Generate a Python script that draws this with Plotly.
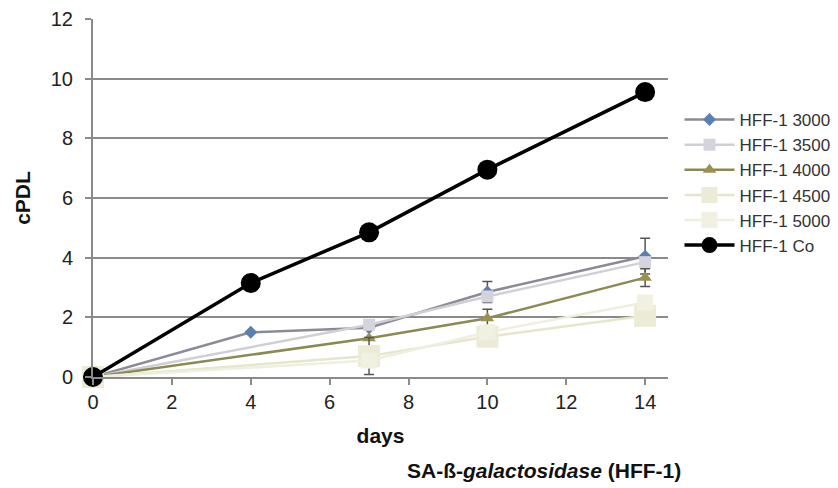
import plotly.graph_objects as go

days = [0, 4, 7, 10, 14]
names = ["HFF-1 3000", "HFF-1 3500", "HFF-1 4000", "HFF-1 4500", "HFF-1 5000", "HFF-1 Co"]
v3000 = [0, 1.5, 1.65, 2.85, 4.05]
v3500 = [0, None, 1.75, 2.7, 3.85]
v4000 = [0, None, 1.3, 1.97, 3.33]
v4500 = [0, None, 0.7, 1.35, 2.05]
v5000 = [0, None, 0.55, 1.5, 2.5]
vCo = [0, 3.15, 4.85, 6.95, 9.55]
err3000 = [0, 0, 0, 0.35, 0.6]
err3500 = [0, 0, 0.15, 0, 0]
err4000 = [0, 0, 0, 0.3, 0.3]
err4500 = [0, 0, 0.62, 0, 0]
x_ticks = [0, 2, 4, 6, 8, 10, 12, 14]
y_ticks = [0, 2, 4, 6, 8, 10, 12]

series = [
    (v3000, err3000, "#8a8a98", 2.5, "diamond", 10, "#5b7fae"),
    (v3500, err3500, "#cfcfd6", 2.5, "square", 12, "#d4d4de"),
    (v4000, err4000, "#8c8a52", 2.5, "triangle-up", 12, "#9a9150"),
    (v4500, err4500, "#e6e6cc", 2.5, "square", 22, "#ececd6"),
    (v5000, None, "#efefdf", 2.5, "square", 16, "#f1f1e2"),
    (vCo, None, "#000000", 3.5, "circle", 20, "#000000"),
]

fig = go.Figure()
for name, (vals, err, lc, lw, sym, ms, mc) in zip(names, series):
    kw = {}
    if err is not None:
        kw["error_y"] = dict(type="data", array=err, visible=True,
                             color="#555555", thickness=1.5, width=5)
    fig.add_trace(go.Scatter(
        x=days, y=vals, name=name, mode="lines+markers", connectgaps=True,
        line=dict(color=lc, width=lw),
        marker=dict(symbol=sym, size=ms, color=mc),
        cliponaxis=False, legendgroup=name, **kw))

font = "Arial, Liberation Sans, sans-serif"
fig.update_layout(
    width=838, height=488,
    margin=dict(l=93, r=170, t=19, b=111, autoexpand=False),
    paper_bgcolor="white", plot_bgcolor="white",
    font=dict(family=font, size=20, color="#222222"),
    showlegend=True,
    legend=dict(x=1.02, y=0.768, xanchor="left", yanchor="top",
                font=dict(size=17, color="#333333", family=font),
                itemwidth=50, tracegroupgap=0,
                bgcolor="rgba(0,0,0,0)"),
    xaxis=dict(range=[0, 14.58], tickvals=x_ticks, showgrid=False,
               showline=True, linecolor="#8a8a8a", linewidth=2,
               ticks="outside", ticklen=6, tickcolor="#8a8a8a", tickwidth=1.5,
               zeroline=False, tickfont=dict(size=20, color="#222222"),
               title=dict(text="<b>days</b>", font=dict(size=21, color="#111111"), standoff=16)),
    yaxis=dict(range=[0, 12], tickvals=y_ticks, showgrid=True,
               gridcolor="#8a8a8a", gridwidth=2,
               showline=True, linecolor="#8a8a8a", linewidth=2,
               ticks="outside", ticklen=6, tickcolor="#8a8a8a", tickwidth=1.5,
               zeroline=False, tickfont=dict(size=20, color="#222222"),
               ticklabelstandoff=8,
               title=dict(text="<b>cPDL</b>", font=dict(size=21, color="#111111"), standoff=14)),
)
fig.add_annotation(text="<b>SA-ß-<i>galactosidase</i> (HFF-1)</b>", xref="paper", yref="paper",
                   x=(405 - 93) / 575, y=-(470 - 377) / 358, xanchor="left", yanchor="middle",
                   showarrow=False, font=dict(size=21, color="#111111", family=font))
fig.write_html("out.html")
